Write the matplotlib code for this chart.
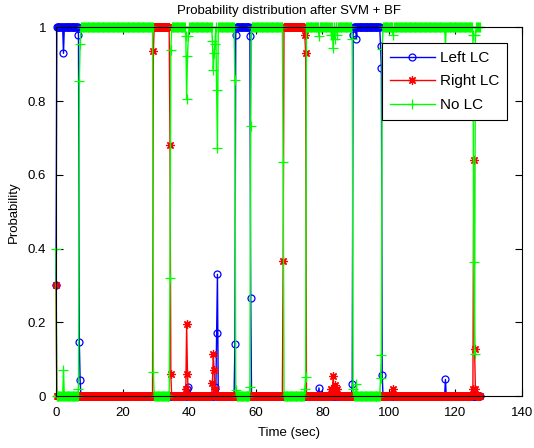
import numpy as np
import matplotlib
matplotlib.use("Agg")
from matplotlib import pyplot as plt

plt.rcParams["font.family"] = ["Liberation Sans", "DejaVu Sans"]

# classifier output sampled every 0.25 s, stored as (value, run length)
sample_step = 0.25

left_runs = [(0.3, 1), (1, 8), (0.93, 1), (1, 17), (0.98, 1), (0.147, 1), (0.043, 1),
             (0, 128), (0.018, 1), (0.024, 1), (0, 31), (0.025, 1), (0, 1), (0.17, 1), (0.33, 1),
             (0, 20), (0.14, 1), (0.98, 1), (1, 16), (0.976, 1), (0.267, 1), (0, 81), (0.022, 1),
             (0, 39), (0.032, 1), (0.98, 1), (1, 3), (0.97, 1), (1, 28), (0.95, 1), (0.89, 1),
             (0.057, 1), (0, 75), (0.045, 1), (0, 41)]

right_runs = [(0.3, 1), (0, 116), (0.935, 1), (1, 19), (0.68, 1), (0.06, 1), (0, 17),
              (0.02, 1), (0.195, 1), (0.06, 1), (0, 29), (0.036, 1), (0.114, 1), (0.07, 1),
              (0.02, 1), (0, 81), (0.367, 1), (1, 25), (0.98, 1), (0.93, 1), (0, 30), (0.02, 1),
              (0, 1), (0.055, 1), (0, 1), (0.03, 1), (0, 2), (0.02, 1), (0, 66), (0.02, 1),
              (0, 95), (0.02, 1), (0.64, 1), (0.127, 1), (0.02, 1), (0, 5)]

none_runs = [(0.4, 1), (0, 8), (0.07, 1), (0, 17), (0.02, 1), (0.854, 1), (0.956, 1),
             (1, 87), (0.066, 1), (0, 19), (0.32, 1), (0.94, 1), (1, 17), (0.978, 1), (0.807, 1),
             (0.922, 1), (0.976, 1), (1, 28), (0.964, 1), (0.886, 1), (0.93, 1), (0.955, 1),
             (1, 1), (0.83, 1), (0.674, 1), (1, 20), (0.858, 1), (0.016, 1), (0, 16), (0.025, 1),
             (0.734, 1), (1, 38), (0.635, 1), (0, 25), (0.02, 1), (0.052, 1), (1, 15), (0.978, 1),
             (1, 14), (0.98, 1), (1, 1), (0.945, 1), (1, 1), (0.97, 1), (1, 2), (0.98, 1),
             (1, 17), (0.968, 1), (0.02, 1), (0, 3), (0.032, 1), (0, 28), (0.05, 1), (0.11, 1),
             (0.943, 1), (1, 12), (0.98, 1), (1, 62), (0.956, 1), (1, 32), (0.98, 1), (0.364, 1),
             (0.113, 1), (0.98, 1), (1, 5)]


def expand(runs):
    vals, counts = zip(*runs)
    return np.repeat(vals, counts)


p_left = expand(left_runs)
p_right = expand(right_runs)
p_none = expand(none_runs)
assert len(p_left) == len(p_right) == len(p_none)
t = np.arange(len(p_left)) * sample_step

fig = plt.figure(figsize=(5.34, 4.48), dpi=100, facecolor="white")
ax = fig.add_axes([56 / 534, 1 - 396 / 448, 466 / 534, 368.5 / 448])

ax.plot(t, p_left, color=(0, 0, 1), lw=1.0, marker="o", ms=5, mfc="none", mew=0.9,
        label="Left LC", clip_on=False)
ax.plot(t, p_right, color=(1, 0, 0), lw=1.0, marker=(8, 2, 0), ms=6, mew=0.9,
        label="Right LC", clip_on=False)
ax.plot(t, p_none, color=(0, 1, 0), lw=1.0, marker="+", ms=7, mew=0.9,
        label="No LC", clip_on=False)

ax.set_xlim(0, 140)
ax.set_ylim(0, 1)
ax.set_xticks(np.arange(0, 141, 20))
ax.set_yticks([0, 0.2, 0.4, 0.6, 0.8, 1])
ax.set_yticklabels(["0", "0.2", "0.4", "0.6", "0.8", "1"])
ax.tick_params(direction="in", top=True, right=True, length=5, width=0.8, labelsize=9.5)
ax.tick_params(axis="x", pad=8)
ax.tick_params(axis="y", pad=7)
for s in ax.spines.values():
    s.set_linewidth(0.8)

ax.set_title("Probability distribution after SVM + BF", fontsize=9.5, pad=10)
ax.set_xlabel("Time (sec)", fontsize=9.5, labelpad=6)
ax.set_ylabel("Probability", fontsize=9.5, labelpad=6)

leg = ax.legend(loc="upper right", bbox_to_anchor=(0.967, 0.957), borderaxespad=0,
                fancybox=False, framealpha=1, edgecolor="black", fontsize=11,
                handlelength=2.95, handletextpad=0.3, labelspacing=0.62, borderpad=0.5)
leg.get_frame().set_linewidth(0.8)

fig.savefig("out.png", dpi=100)
